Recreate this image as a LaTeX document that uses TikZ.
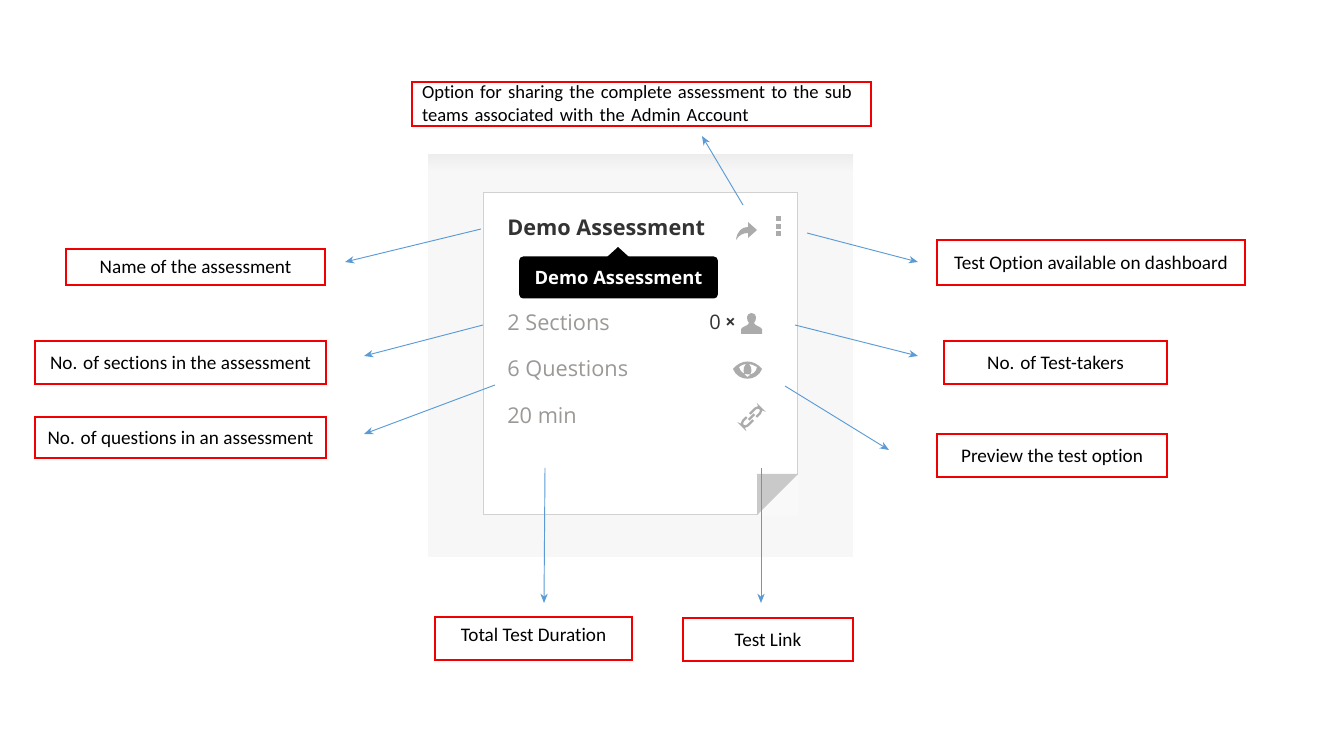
\documentclass[tikz,border=0pt]{standalone}
\usepackage{fontspec}
\setmainfont[Ligatures=NoCommon]{Carlito}
\newfontfamily\cardfont{Open Sans}
\usepackage{xcolor}
\usetikzlibrary{arrows.meta, positioning, calc}
\definecolor{callred}{HTML}{F00000}
\definecolor{callblue}{HTML}{5B9BD5}
\definecolor{cardgrey}{HTML}{9B9896}
\definecolor{icongrey}{HTML}{ABABAB}

\begin{document}
\begin{tikzpicture}[
  x=0.75pt, y=-0.75pt,
  labelbox/.style={draw=callred, line width=1.4pt, inner sep=0pt, align=center, text height=13.5pt, text depth=3.5pt, font=\fontsize{14.4}{17.25}\selectfont, text=black},
  calloutline/.style={-{Stealth[length=7pt,width=5.5pt]}, callblue, line width=0.7pt},
  cardtext/.style={anchor=base west, inner sep=0pt, font=\cardfont\fontsize{16.3}{19}\selectfont, text=cardgrey},
  icon/.style={fill=icongrey, draw=none},
  linkpart/.style={draw=icongrey, line width=1.7pt, rounded corners=3pt},
  >=Stealth
]
\useasboundingbox (0,0) rectangle (1318,737);

% Panel and card
\fill[black!3] (428,155) rectangle (853,557);
\shade[top color=black!7, bottom color=black!3] (428,155) rectangle (853,172);
\node[draw=black!18, fill=white, line width=0.8pt, minimum width=236pt, minimum height=242pt, inner sep=0pt] (card) at (640.5,353.5) {};
\fill[black!2.5] (798.5,474) -- (798.5,516) -- (757,516) -- cycle;
\fill[black!21] (757,474) -- (798,474) -- (757,515) -- cycle;

% Card texts
\node[cardtext, font=\cardfont\bfseries\fontsize{16.25}{19}\selectfont, text=black!80] (title) at (507,236) {Demo Assessment};
\node[cardtext] (sections) at (507,331) {2 Sections};
\node[cardtext] (questions) at (507,377) {6 Questions};
\node[cardtext] (duration) at (507,424) {20 min};
\node[cardtext, font=\cardfont\fontsize{15}{17}\selectfont, text=black!80] (takers) at (709,330) {0};
\node[cardtext, font=\cardfont\bfseries\fontsize{13.5}{14}\selectfont, text=black!80] (times) at (725,329) {×};

% Tooltip
\node[fill=black, rounded corners=3pt, minimum width=149pt, minimum height=31.5pt, inner sep=0pt, text=white, font=\cardfont\bfseries\fontsize{13.8}{17}\selectfont] (tooltip) at (618.5,277.5) {Demo Assessment};
\fill[black] (607,257) -- (618,247) -- (629,257) -- cycle;

% Icons
\fill[icon] (736,240) .. controls (737,231) and (742,227) .. (748,227) -- (748,222) -- (757,230) -- (748,238) -- (748,233) .. controls (743,233) and (739,235) .. (736,240) -- cycle;
\foreach \dy in {219,227,234}
  \fill[icon] (775.5,\dy-2.5) rectangle (780.5,\dy+2.5);
\fill[icon] (741,334) -- (741,329) .. controls (743,326) and (748,326) .. (749,323) .. controls (746,320) and (746,313) .. (751.5,313) .. controls (757,313) and (757,320) .. (754,323) .. controls (755,326) and (760,326) .. (762,329) -- (762,334) -- cycle;
\fill[icon, even odd rule] (733,369) .. controls (741,359) and (754,359) .. (762,369) .. controls (757,382) and (738,382) .. (733,369) -- cycle
  (739,367) .. controls (742,365) and (744,364) .. (746,364) .. controls (742,368) and (743,375) .. (747.5,377) .. controls (752,375) and (753,368) .. (749,364) .. controls (751,364) and (753,365) .. (757,367) .. controls (756,377) and (741,377) .. (739,367) -- cycle;
\fill[icon] (747.5,369) circle (3);
\begin{scope}[shift={(751.5,417)}, rotate=45]
  \draw[linkpart] (1,-3.4) -- (12.5,-3.4) -- (12.5,3.4) -- (3.5,3.4);
  \draw[linkpart] (-1,3.4) -- (-12.5,3.4) -- (-12.5,-3.4) -- (-3.5,-3.4);
  \draw[linkpart] (-4,0) -- (4,0);
\end{scope}

% Labels
\node[labelbox, align=left, text width=329.25pt, inner xsep=7.5pt, text height=, text depth=, minimum height=33pt, font=\fontsize{13.95}{17.25}\selectfont] (sharebox) at (641.5,104) {Option for sharing the complete assessment to the sub\\teams associated with the Admin Account};
\node[labelbox, minimum width=194pt, minimum height=27pt] (namebox) at (195.5,267) {Name of the assessment};
\node[labelbox, minimum width=218pt, minimum height=32pt] (sectionbox) at (180.5,362.5) {No. of sections in the assessment};
\node[labelbox, minimum width=218pt, minimum height=31pt] (questionbox) at (180.5,437.5) {No. of questions in an assessment};
\node[labelbox, minimum width=148pt, minimum height=32.5pt, text height=12pt, text depth=7.6pt] (durationbox) at (533.5,638.5) {Total Test Duration};
\node[labelbox, minimum width=127.5pt, minimum height=32.5pt] (linkbox) at (768,639.5) {Test Link};
\node[labelbox, minimum width=172.5pt, minimum height=32.5pt] (previewbox) at (1052,455.5) {Preview the test option};
\node[labelbox, minimum width=167pt, minimum height=32.5pt] (takerbox) at (1055.5,362.5) {No. of Test-takers};
\node[labelbox, minimum width=231pt, minimum height=34pt] (optionbox) at (1091,262.5) {Test Option available on dashboard};

% Free ends of the arrows
\coordinate (sharefrom) at (743,205);  \coordinate (shareto) at (702,136);
\coordinate (namefrom) at (481,229);   \coordinate (nameto) at (345,262);
\coordinate (sectionfrom) at (483,325);\coordinate (sectionto) at (364,356);
\coordinate (questionfrom) at (495,385);\coordinate (questionto) at (364,434);
\coordinate (durationfrom) at (545,468);\coordinate (durationto) at (544,603);
\coordinate (linkfrom) at (761,468);   \coordinate (linkto) at (761,603);
\coordinate (previewfrom) at (785,386);\coordinate (previewto) at (889,450);
\coordinate (takerfrom) at (795,325);  \coordinate (takerto) at (918,356);
\coordinate (optionfrom) at (807,233); \coordinate (optionto) at (918,262);

% Arrows
\foreach \from/\to in {sharefrom/shareto, namefrom/nameto, sectionfrom/sectionto, questionfrom/questionto, durationfrom/durationto, linkfrom/linkto, previewfrom/previewto, takerfrom/takerto, optionfrom/optionto}
  \draw[calloutline] (\from) -- (\to);
\end{tikzpicture}
\end{document}
